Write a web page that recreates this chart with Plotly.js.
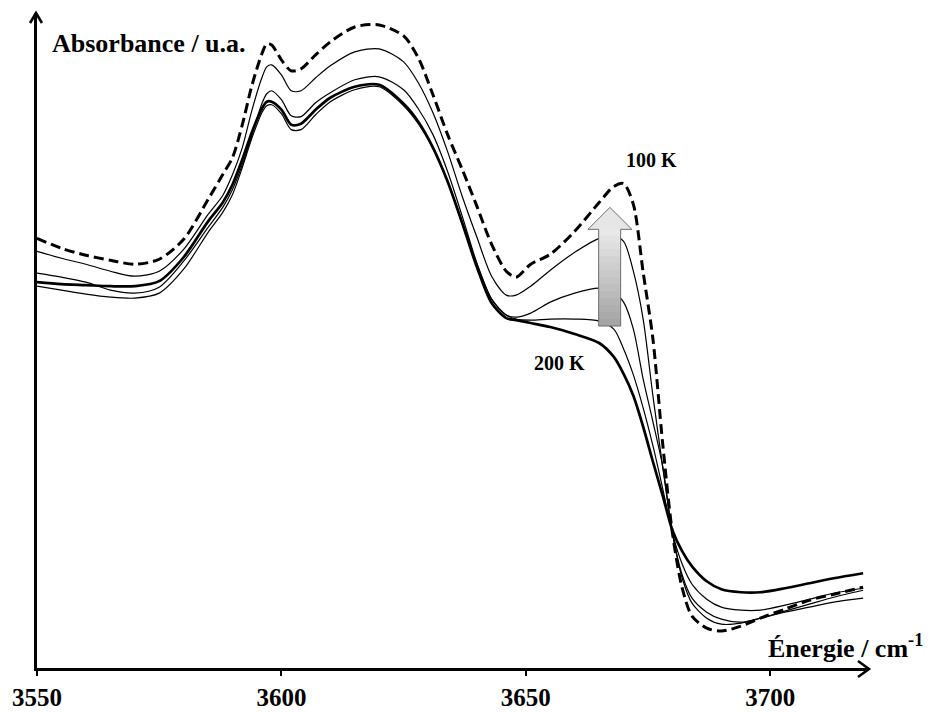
<!DOCTYPE html>
<html>
<head>
<meta charset="utf-8">
<script src="https://cdn.plot.ly/plotly-3.0.1.min.js"></script>
<style>
  html, body { margin: 0; padding: 0; background: #fff; }
  #chart { width: 929px; height: 714px; }
</style>
</head>
<body>
<div id="chart"></div>
<script>
// Wavenumber (cm-1)
const energie = [3550,3555,3560,3565,3570,3575,3580,3585,3588,3590,3592,3594,3596,3597,3598,3600,3602,3604,3607,3610,3615,3620,3625,3628,3631,3634,3637,3640,3643,3646,3648,3651,3655,3660,3665,3668,3670,3672,3674,3676,3678,3680,3682,3684,3687,3690,3694,3698,3703,3708,3713,3719];

// Absorbance (u.a.) — 100 K (dashed)
const abs100K = [0.431,0.421,0.414,0.409,0.405,0.410,0.430,0.470,0.495,0.512,0.545,0.585,0.616,0.626,0.625,0.610,0.599,0.601,0.615,0.628,0.643,0.645,0.634,0.612,0.575,0.535,0.500,0.463,0.425,0.398,0.392,0.405,0.415,0.438,0.467,0.483,0.486,0.465,0.397,0.330,0.225,0.135,0.080,0.052,0.040,0.037,0.042,0.050,0.059,0.068,0.074,0.081];

// Intermediate temperatures (thin lines)
const absT1 = [0.418,0.411,0.405,0.398,0.393,0.398,0.420,0.455,0.474,0.495,0.522,0.560,0.592,0.603,0.605,0.595,0.579,0.579,0.592,0.604,0.618,0.621,0.608,0.587,0.557,0.518,0.473,0.432,0.393,0.374,0.374,0.383,0.399,0.417,0.431,0.433,0.428,0.398,0.350,0.273,0.202,0.135,0.090,0.065,0.050,0.044,0.045,0.050,0.056,0.061,0.066,0.070];
const absT2 = [0.396,0.392,0.387,0.379,0.376,0.382,0.408,0.442,0.462,0.480,0.505,0.535,0.566,0.576,0.579,0.570,0.554,0.553,0.567,0.577,0.590,0.593,0.580,0.561,0.535,0.498,0.453,0.406,0.370,0.354,0.352,0.356,0.367,0.376,0.381,0.377,0.367,0.340,0.290,0.247,0.202,0.135,0.093,0.070,0.056,0.049,0.046,0.050,0.057,0.064,0.071,0.078];
const absT3 = [0.383,0.379,0.375,0.372,0.371,0.376,0.400,0.437,0.457,0.475,0.502,0.532,0.557,0.564,0.565,0.556,0.540,0.540,0.555,0.568,0.580,0.583,0.564,0.546,0.521,0.488,0.448,0.405,0.370,0.354,0.350,0.349,0.350,0.350,0.348,0.340,0.320,0.294,0.261,0.223,0.180,0.135,0.104,0.084,0.069,0.061,0.058,0.058,0.063,0.069,0.075,0.080];

// 200 K (thick line)
const abs200K = [0.387,0.385,0.384,0.383,0.383,0.388,0.412,0.448,0.467,0.485,0.510,0.538,0.561,0.568,0.568,0.560,0.545,0.546,0.560,0.572,0.583,0.585,0.566,0.548,0.522,0.488,0.446,0.402,0.366,0.351,0.349,0.346,0.342,0.335,0.326,0.312,0.295,0.273,0.242,0.207,0.173,0.138,0.117,0.102,0.087,0.079,0.076,0.076,0.080,0.085,0.090,0.095];

const tickVals = [3550, 3600, 3650, 3700];
const tickText = ['3550', '3600', '3650', '3700'];

const FONT = 'Liberation Serif, Times New Roman, serif';

function line(y, width, dash) {
  return {
    x: energie, y: y, type: 'scatter', mode: 'lines',
    line: { color: '#000', width: width, dash: dash || 'solid', shape: 'spline', smoothing: 0.8 },
    hoverinfo: 'skip', showlegend: false
  };
}

const traces = [
  line(absT1, 1.2),
  line(absT2, 1.2),
  line(absT3, 1.2),
  line(abs200K, 2.7),
  line(abs100K, 3, '10px,5px')
];

// Decorative gradient arrow (200 K -> 100 K)
const shapes = [];
const shaftX0 = 3664.9, shaftX1 = 3669.4, shaftY0 = 0.343, shaftY1 = 0.441;
const nb = 14;
for (let i = 0; i < nb; i++) {
  const t = i / (nb - 1);
  const g = Math.round(165 + (232 - 165) * t);
  const col = 'rgb(' + g + ',' + g + ',' + g + ')';
  shapes.push({
    type: 'rect', xref: 'x', yref: 'y', layer: 'above',
    x0: shaftX0, x1: shaftX1,
    y0: shaftY0 + (shaftY1 - shaftY0) * i / nb,
    y1: shaftY0 + (shaftY1 - shaftY0) * (i + 1) / nb + 0.001,
    fillcolor: col, line: { width: 0 }
  });
}
shapes.push({
  type: 'path', xref: 'x', yref: 'y', layer: 'above',
  path: 'M3662.7,0.440 L3667.2,0.462 L3671.7,0.440 Z',
  fillcolor: '#e6e6e6', line: { width: 0 }
});
shapes.push({
  type: 'path', xref: 'x', yref: 'y', layer: 'above',
  path: 'M3664.9,0.343 L3664.9,0.440 L3662.7,0.440 L3667.2,0.462 L3671.7,0.440 L3669.4,0.440 L3669.4,0.343 Z',
  fillcolor: 'rgba(0,0,0,0)', line: { color: '#6e6e6e', width: 1 }
});
// Axis arrowheads (open chevrons), paper-referenced so they are not clipped
shapes.push({
  type: 'path', xref: 'paper', yref: 'paper', layer: 'above',
  xsizemode: 'pixel', ysizemode: 'pixel', xanchor: 1, yanchor: 0,
  path: 'M-10,7 L1,-1 L-10,-9',
  line: { color: '#000', width: 2.6 }
});
shapes.push({
  type: 'path', xref: 'paper', yref: 'paper', layer: 'above',
  xsizemode: 'pixel', ysizemode: 'pixel', xanchor: 0, yanchor: 1,
  path: 'M-7,-10 L-1,0 L5,-10',
  line: { color: '#000', width: 2.6 }
});

const layout = {
  width: 929, height: 714,
  margin: { l: 37, r: 61, t: 13, b: 46 },
  paper_bgcolor: '#fff', plot_bgcolor: '#fff',
  showlegend: false,
  font: { family: FONT, color: '#000' },
  xaxis: {
    range: [3550, 3720], showgrid: false, zeroline: false,
    showline: true, linecolor: '#000', linewidth: 2.6,
    ticks: 'outside', ticklen: 5, tickwidth: 2, tickcolor: '#000',
    tickvals: tickVals, ticktext: tickText.map(t => '<b>' + t + '</b>'),
    tickfont: { family: FONT, size: 25, color: '#000' }
  },
  yaxis: {
    range: [0, 0.657], showgrid: false, zeroline: false,
    showline: true, linecolor: '#000', linewidth: 2.6,
    showticklabels: false, ticks: ''
  },
  shapes: shapes,
  annotations: [
    { x: 3552.7, y: 0.626, xref: 'x', yref: 'y', xanchor: 'left', yanchor: 'middle',
      text: '<b>Absorbance / u.a.</b>', showarrow: false,
      font: { family: FONT, size: 26, color: '#000' } },
    { x: 1.069, y: 0.033, xref: 'paper', yref: 'paper', xanchor: 'right', yanchor: 'middle',
      text: '<b>Énergie / cm<sup>-1</sup></b>', showarrow: false,
      font: { family: FONT, size: 26, color: '#000' } },
    { x: 3675.8, y: 0.510, xref: 'x', yref: 'y', xanchor: 'center', yanchor: 'middle',
      text: '<b>100 K</b>', showarrow: false,
      font: { family: FONT, size: 20, color: '#000' } },
    { x: 3656.8, y: 0.306, xref: 'x', yref: 'y', xanchor: 'center', yanchor: 'middle',
      text: '<b>200 K</b>', showarrow: false,
      font: { family: FONT, size: 20, color: '#000' } }
  ]
};

Plotly.newPlot('chart', traces, layout, { displayModeBar: false, staticPlot: true });
</script>
</body>
</html>
